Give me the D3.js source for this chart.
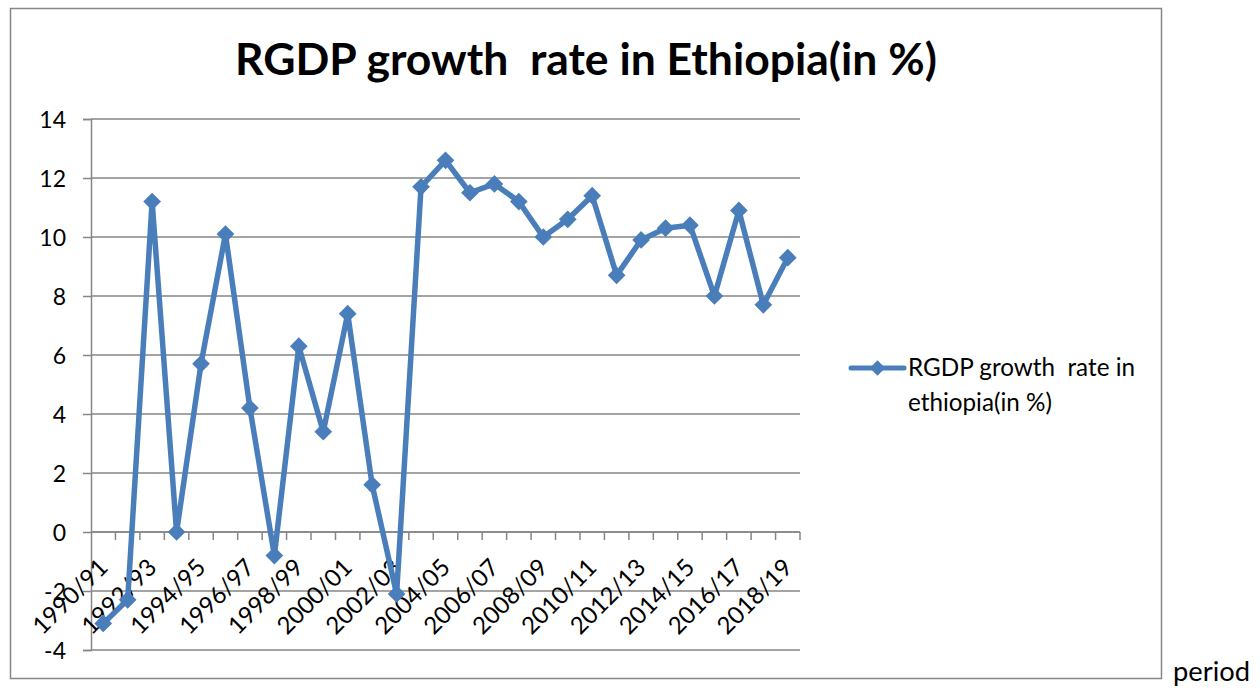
<!DOCTYPE html>
<html>
<head>
<meta charset="utf-8">
<script src="https://cdn.jsdelivr.net/npm/d3@7"></script>
<style>
  html, body { margin: 0; padding: 0; background: #fff; }
  svg text { font-family: Lato, "Open Sans", "Liberation Sans", sans-serif; fill: #000; white-space: pre; }
</style>
</head>
<body>
<svg id="chart" width="1260" height="690"></svg>
<script>
// Fiscal years shown on the category axis
const periods = [
  "1990/91","1991/92","1992/93","1993/94","1994/95","1995/96","1996/97","1997/98",
  "1998/99","1999/00","2000/01","2001/02","2002/03","2003/04","2004/05","2005/06",
  "2006/07","2007/08","2008/09","2009/10","2010/11","2011/12","2012/13","2013/14",
  "2014/15","2015/16","2016/17","2017/18","2018/19"
];
// Real GDP growth rate (%)
const growth = [
  -3.1, -2.3, 11.2, 0.0, 5.7, 10.1, 4.2, -0.8,
  6.3, 3.4, 7.4, 1.6, -2.1, 11.7, 12.6, 11.5,
  11.8, 11.2, 10.0, 10.6, 11.4, 8.7, 9.9, 10.3,
  10.4, 8.0, 10.9, 7.7, 9.3
];
const yTicks = [-4, -2, 0, 2, 4, 6, 8, 10, 12, 14];
const titleText = "RGDP growth  rate in Ethiopia(in %)";
const legendLines = ["RGDP growth  rate in", "ethiopia(in %)"];
const sideNote = "period";

const seriesColor = "#4a7ebb";
const gridColor = "#868686";

const svg = d3.select("#chart");

// Scale a text's font size so that it spans a given width
function fitWidth(sel, width) {
  const node = sel.node();
  const fs = parseFloat(sel.attr("font-size"));
  const w = node.getComputedTextLength();
  if (w > 0) sel.attr("font-size", (fs * width / w).toFixed(2));
  return sel;
}

// Chart frame
svg.append("rect")
  .attr("x", 10.5).attr("y", 8.5)
  .attr("width", 1151).attr("height", 670)
  .attr("fill", "none").attr("stroke", gridColor).attr("stroke-width", 1.5);

const plot = { left: 91, right: 800, top: 119, bottom: 650 };

const x = d3.scaleBand().domain(periods).range([plot.left, plot.right]).padding(0);
const y = d3.scaleLinear().domain([-4, 14]).range([plot.bottom, plot.top]);
const cx = p => x(p) + x.bandwidth() / 2;

// Horizontal gridlines
svg.append("g").selectAll("line").data(yTicks).join("line")
  .attr("x1", plot.left).attr("x2", plot.right)
  .attr("y1", d => y(d)).attr("y2", d => y(d))
  .attr("stroke", gridColor).attr("stroke-width", 1.5);

// Value axis
const yAxis = svg.append("g")
  .attr("transform", `translate(${plot.left},0)`)
  .call(d3.axisLeft(y).tickValues(yTicks).tickSize(8).tickPadding(17).tickFormat(d => String(d)));
yAxis.attr("font-family", null).attr("font-size", null);
yAxis.select(".domain").attr("stroke", gridColor).attr("stroke-width", 1.5);
yAxis.selectAll(".tick line").attr("stroke", gridColor).attr("stroke-width", 1.5);
yAxis.selectAll(".tick text")
  .attr("font-size", 23).attr("dy", "0.36em");

// Category axis crossing at zero
const bounds = periods.map(p => x(p)).concat([plot.right]);
const xAxis = svg.append("g");
xAxis.append("line")
  .attr("x1", plot.left).attr("x2", plot.right)
  .attr("y1", y(0)).attr("y2", y(0))
  .attr("stroke", gridColor).attr("stroke-width", 1.5);
xAxis.selectAll("line.tk").data(bounds.slice(1)).join("line").attr("class", "tk")
  .attr("x1", d => d).attr("x2", d => d)
  .attr("y1", y(0)).attr("y2", y(0) + 8)
  .attr("stroke", gridColor).attr("stroke-width", 1.5);
xAxis.selectAll("text").data(periods.filter((p, i) => i % 2 === 0)).join("text")
  .attr("transform", p => `translate(${cx(p) + 6},${y(0) + 37}) rotate(-45)`)
  .attr("text-anchor", "end")
  .attr("font-size", 24)
  .text(p => p);

// Series line and diamond markers
const line = d3.line()
  .x((d, i) => cx(periods[i]))
  .y(d => y(d));
svg.append("path").datum(growth)
  .attr("d", line)
  .attr("fill", "none").attr("stroke", seriesColor)
  .attr("stroke-width", 5.5).attr("stroke-linejoin", "round");

const diamond = d3.symbol().type(d3.symbolDiamond2).size(200);
svg.append("g").selectAll("path").data(growth).join("path")
  .attr("transform", (d, i) => `translate(${cx(periods[i])},${y(d)})`)
  .attr("d", diamond)
  .attr("fill", seriesColor);

// Title
fitWidth(svg.append("text")
  .attr("x", 586).attr("y", 75)
  .attr("text-anchor", "middle")
  .attr("font-weight", "bold").attr("font-size", 38)
  .text(titleText), 702);

// Legend
const lg = svg.append("g");
lg.append("line").attr("x1", 851).attr("x2", 904).attr("y1", 368).attr("y2", 368)
  .attr("stroke", seriesColor).attr("stroke-width", 5).attr("stroke-linecap", "round");
lg.append("path").attr("transform", "translate(877.5,368)")
  .attr("d", d3.symbol().type(d3.symbolDiamond2).size(150)).attr("fill", seriesColor);
const lt1 = lg.append("text").attr("x", 908).attr("y", 376).attr("font-size", 20).text(legendLines[0]);
fitWidth(lt1, 227);
lg.append("text").attr("x", 908).attr("y", 411).attr("font-size", lt1.attr("font-size")).text(legendLines[1]);

// Note beside the frame
fitWidth(svg.append("text").attr("x", 1173).attr("y", 681).attr("font-size", 22).text(sideNote), 77);
</script>
</body>
</html>
